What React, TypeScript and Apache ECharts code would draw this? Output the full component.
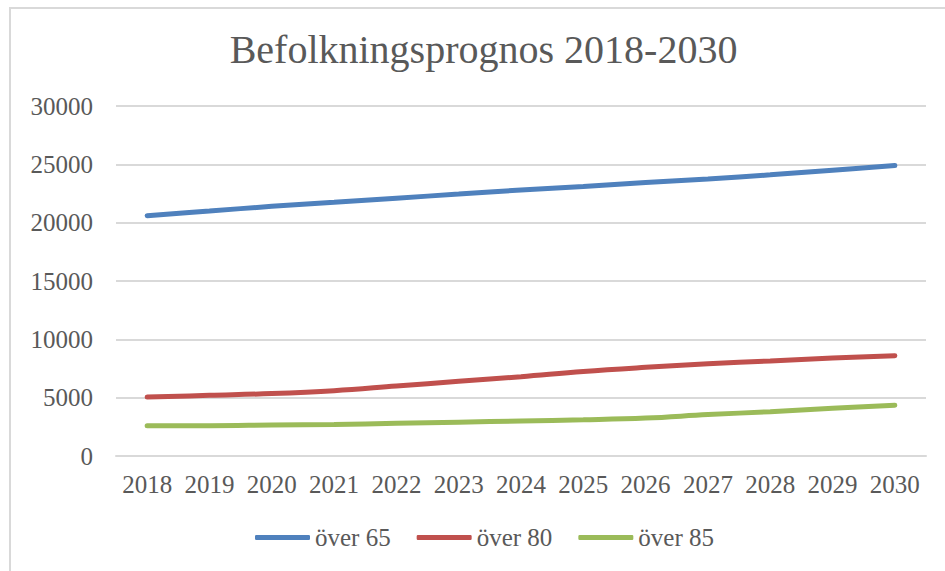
import React, { useEffect, useRef } from "react";
import * as echarts from "echarts";

const years = ["2018","2019","2020","2021","2022","2023","2024","2025","2026","2027","2028","2029","2030"];
const over65 = [20600, 21000, 21400, 21750, 22100, 22450, 22800, 23100, 23450, 23750, 24100, 24500, 24900];
const over80 = [5050, 5200, 5350, 5600, 6000, 6400, 6800, 7250, 7600, 7900, 8150, 8400, 8600];
const over85 = [2600, 2600, 2650, 2700, 2800, 2900, 3000, 3100, 3250, 3550, 3800, 4100, 4350];
const seriesNames = ["över 65", "över 80", "över 85"];
const colors = ["#4F81BD", "#C0504D", "#9BBB59"];

const FONT = "'Liberation Serif', serif";
const TXT = "#595959";

export default function App() {
  const ref = useRef<HTMLDivElement>(null);
  useEffect(() => {
    if (!ref.current) return;
    const chart = echarts.init(ref.current, null, { renderer: "svg" });
    const data = [over65, over80, over85];
    chart.setOption({
      animation: false,
      backgroundColor: "#fff",
      textStyle: { fontFamily: FONT },
      title: {
        text: "Befolkningsprognos 2018-2030",
        left: 483.5,
        top: 29,
        padding: 0,
        textAlign: "center",
        textStyle: { fontFamily: FONT, fontSize: 40, fontWeight: "normal", color: TXT },
      },
      graphic: [
        {
          type: "rect",
          shape: { x: 10, y: 8, width: 1200, height: 1000 },
          style: { fill: "none", stroke: "#D9D9D9", lineWidth: 2 },
          silent: true,
        },
      ],
      legend: {
        left: 250,
        top: 520,
        icon: "roundRect",
        itemWidth: 55,
        itemHeight: 5,
        itemGap: 26,
        textStyle: { fontFamily: FONT, fontSize: 25, color: TXT },
        data: seriesNames,
      },
      grid: { left: 116, right: 19, top: 106, bottom: 115, containLabel: false },
      xAxis: {
        type: "category",
        data: years,
        boundaryGap: true,
        axisLine: { show: true, lineStyle: { color: "#D9D9D9", width: 2 } },
        axisTick: { show: false },
        axisLabel: { fontFamily: FONT, fontSize: 25, color: TXT, margin: 16, interval: 0 },
      },
      yAxis: {
        type: "value",
        min: 0,
        max: 30000,
        interval: 5000,
        axisLine: { show: false },
        axisTick: { show: false },
        splitLine: { lineStyle: { color: "#D9D9D9", width: 2 } },
        axisLabel: {
          fontFamily: FONT,
          fontSize: 25,
          color: TXT,
          margin: 23,
          formatter: (v: number) => String(v),
        },
      },
      series: seriesNames.map((name, i) => ({
        name,
        type: "line",
        data: data[i],
        smooth: 0.4,
        symbol: "none",
        color: colors[i],
        lineStyle: { width: 5, color: colors[i], cap: "round" },
        itemStyle: { color: colors[i] },
      })),
    });
    return () => chart.dispose();
  }, []);
  return (
    <div
      ref={ref}
      style={{ position: "fixed", left: 0, top: 0, width: 945, height: 571 }}
    />
  );
}
